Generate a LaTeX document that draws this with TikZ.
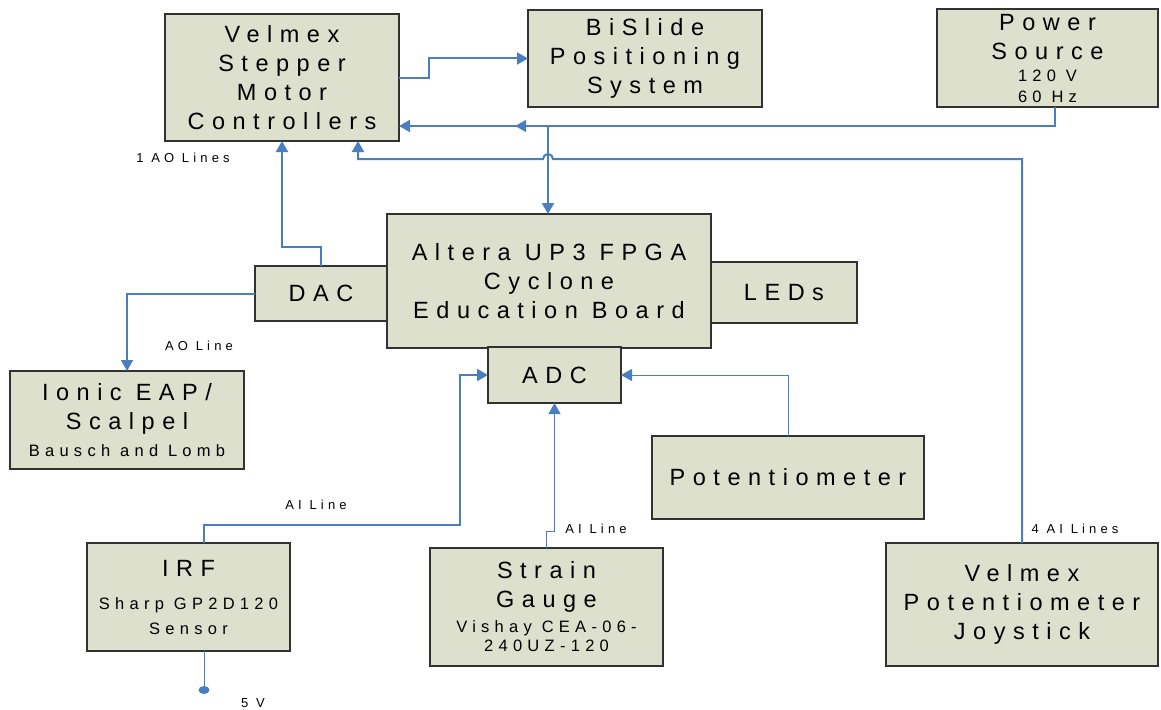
\documentclass[tikz,border=0pt]{standalone}
\usepackage{fontspec}
\setmainfont{Liberation Sans}
\newfontfamily\spc[LetterSpace=32]{Liberation Sans}
\usetikzlibrary{calc,positioning}
\usetikzlibrary{arrows.meta,decorations.markings,shapes.geometric}
\definecolor{boxfill}{RGB}{221,224,204}
\definecolor{wireblue}{RGB}{74,126,194}
\definecolor{edge}{RGB}{50,50,50}
\newcommand\bigt{\spc\fontsize{23.5}{29}\selectfont}
\newcommand\smt{\spc\fontsize{16.5}{20}\selectfont}
\newcommand\lbt{\spc\fontsize{13}{15}\selectfont}

\begin{document}
\begin{tikzpicture}[x=1pt,y=-1pt,>={Triangle[length=11pt,width=12pt]},
  blk/.style={draw=edge,fill=boxfill,line width=1.1pt,align=center,inner sep=0pt,outer sep=0pt,font=\bigt},
  wire/.style={draw=wireblue,line width=2pt},
  thinwire/.style={draw=wireblue,line width=1pt},
  lbl/.style={font=\lbt,inner sep=0pt}]
\useasboundingbox (0,0) rectangle (1161,709);
%\draw[step=50,help lines](0,0)grid(1161,709);
    \node[blk,minimum width=234pt,minimum height=127pt] (vsmc) at (282,77.5) {Velmex\\Stepper\\Motor\\Controllers};
    \node[blk,minimum width=234pt,minimum height=97pt] (bislide) at (645,58.5) {BiSlide\\Positioning\\System};
    \node[blk,minimum width=221pt,minimum height=98pt] (power) at (1047.5,58) {Power\\Source\\[-7pt]\smt 120 V\\[-8pt]\smt 60 Hz};
    \node[blk,minimum width=324pt,minimum height=134pt] (altera) at (549,281) {Altera UP3 FPGA\\Cyclone\\Education Board};
    \node[blk,minimum width=132pt,minimum height=55pt] (dac) at (321,293.5) {DAC};
    \node[blk,minimum width=146pt,minimum height=61pt] (leds) at (784,292.5) {LEDs};
    \node[blk,minimum width=133pt,minimum height=56pt] (adc) at (554.5,375) {ADC};
    \node[blk,minimum width=234pt,minimum height=98pt] (ionic) at (127,420) {Ionic EAP/\\Scalpel\\[-2pt]\smt Bausch and Lomb};
    \node[blk,minimum width=272pt,minimum height=83pt] (pot) at (788,477.5) {Potentiometer};
    \node[blk,minimum width=203pt,minimum height=108pt] (irf) at (188.5,597) {IRF\\[4pt]\smt Sharp GP2D120\\[-4pt]\smt Sensor};
    \node[blk,minimum width=233pt,minimum height=118pt] (strain) at (546.5,607) {Strain\\Gauge\\[-4pt]\smt Vishay CEA-06-\\[-10pt]\smt 240UZ-120};
    \node[blk,minimum width=272pt,minimum height=123pt] (joy) at (1022,604.5) {Velmex\\Potentiometer\\Joystick};
% bends
    \coordinate (pj) at (548,126);
    \coordinate (hop) at (548,159);
% wires
    \draw[wire,->] (vsmc.east) -- ++(30,0) |- (bislide.west);
    \draw[wire] ([xshift=7.5pt]power.south) |- (pj);
    \draw[wire,->,postaction=decorate,decoration={markings,mark=at position 0.22 with {\arrow{>}}}] (pj) -- (vsmc.east |- pj);
    \draw[wire,->] (pj) -- (pj |- altera.north);
    \draw[wire,->] (joy.north) |- ([xshift=5pt]hop) arc[start angle=0,end angle=180,radius=5pt] -| ([xshift=76pt]vsmc.south);
    \draw[wire,->] (dac.north) -- ++(0,-19) -| (vsmc.south);
    \draw[wire,->] (dac.west) -| (ionic.north);
    \draw[wire,->] ([xshift=15.5pt]irf.north) -- ++(0,-18) -| ([xshift=-28pt]adc.west) -- (adc.west);
    \draw[thinwire,->] (strain.north) -- ++(0,-17) -| (adc.south);
    \draw[thinwire,->] (pot.north) |- (adc.east);
    \draw[thinwire] ([xshift=15.5pt]irf.south) -- ++(0,39) node[fill=wireblue,ellipse,inner sep=0pt,minimum width=11pt,minimum height=8pt] (vfive) {};
% labels
    \node[lbl] (l1) at (183,158) {1 AO Lines};
    \node[lbl] (l2) at (199,346) {AO Line};
    \node[lbl] (l3) at (316,505) {AI Line};
    \node[lbl] (l4) at (596,529) {AI Line};
    \node[lbl] (l5) at (1075,529) {4 AI Lines};
    \node[lbl] (l6) at (253,703) {5 V};
\end{tikzpicture}
\end{document}
